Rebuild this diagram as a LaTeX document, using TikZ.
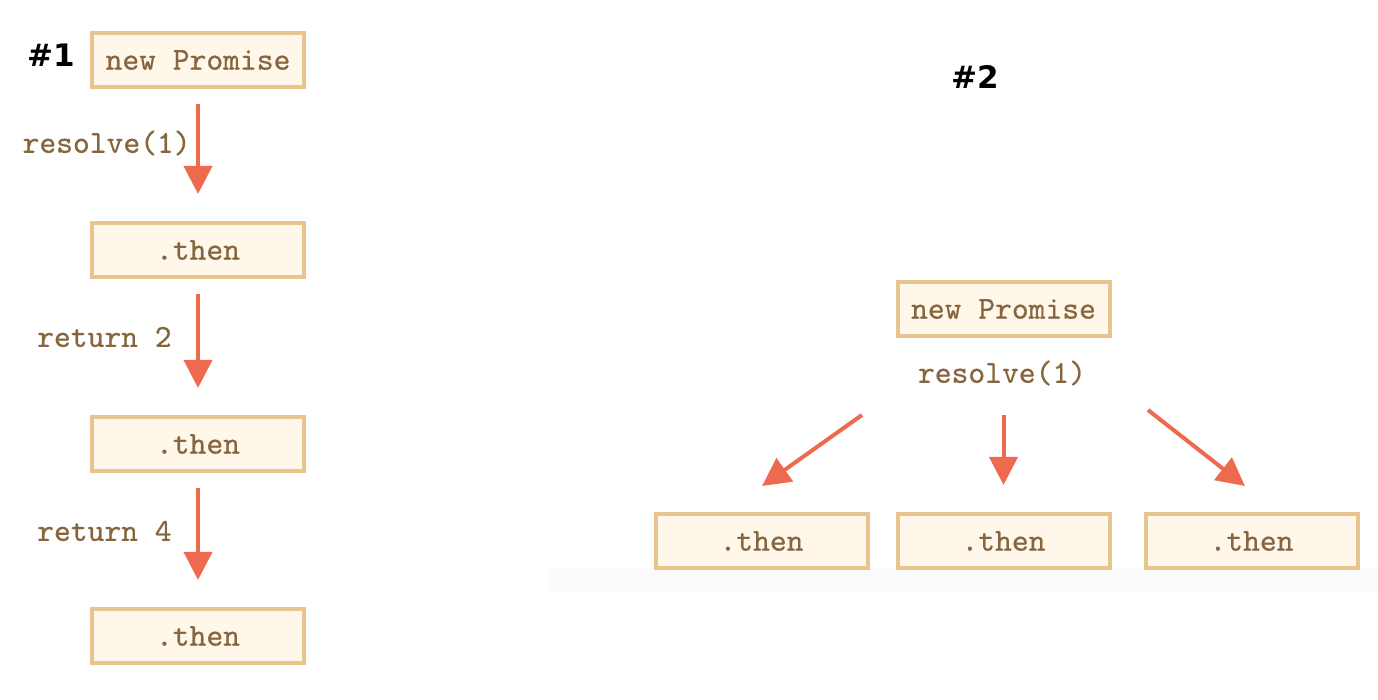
\documentclass[tikz,border=0pt]{standalone}
\usepackage{fontspec}
\usetikzlibrary{arrows.meta}
\newfontfamily\codefont{lmmono10-regular.otf}[FakeBold=0.6]
\newfontfamily\tagfont{DejaVu Sans}
\definecolor{boxfill}{HTML}{FFF8EA}
\definecolor{boxline}{HTML}{E8C48E}
\definecolor{codetext}{HTML}{86653F}
\definecolor{arrowcol}{HTML}{EE6A4F}
\definecolor{band}{HTML}{FBFBFB}
\begin{document}
\begin{tikzpicture}[x=0.5pt,y=-0.5pt,
  codebox/.style={draw=boxline,fill=boxfill,line width=2pt,minimum width=106pt,minimum height=27pt,inner sep=0pt,font=\codefont\fontsize{16}{18}\selectfont,text=codetext},
  codelabel/.style={inner sep=0pt,font=\codefont\fontsize{16}{18}\selectfont,text=codetext},
  tag/.style={inner sep=0pt,font=\tagfont\bfseries\fontsize{15.5}{17}\selectfont,text=black},
  flow/.style={draw=arrowcol,line width=2pt,-{Triangle[length=14pt,width=14pt]},arrowcol}]
\useasboundingbox (0,0) rectangle (1378,700);
\fill[band] (548,568) rectangle (1378,592);
% left chain
\node[tag] (t1) at (51,55) {\#1};
\node[codebox] (a1) at (198,60) {new Promise};
\node[codebox] (a2) at (198,250) {.then};
\node[codebox] (a3) at (198,444) {.then};
\node[codebox] (a4) at (198,636) {.then};
\node[codelabel,anchor=east] (l1) at (191,143) {resolve(1)};
\node[codelabel,anchor=east] (l2) at (172,337) {return 2};
\node[codelabel,anchor=east] (l3) at (172,531) {return 4};
\draw[flow,shorten <=7.5pt,shorten >=13.5pt] (a1.south) -- (a2.north);
\draw[flow,shorten <=7.5pt,shorten >=13.5pt] (a2.south) -- (a3.north);
\draw[flow,shorten <=7.5pt,shorten >=13.5pt] (a3.south) -- (a4.north);
% right fan
\node[tag] (t2) at (975,77) {\#2};
\node[codebox] (p) at (1003.5,309) {new Promise};
\node[codelabel] (r) at (1002,373) {resolve(1)};
\node[codebox] (b1) at (761.5,541) {.then};
\node[codebox] (b2) at (1003.5,541) {.then};
\node[codebox] (b3) at (1251.5,541) {.then};
\coordinate (s1) at (862,415);
\coordinate (e1) at (762,486);
\coordinate (s3) at (1148,410);
\coordinate (e3) at (1245,486);
\coordinate (s2) at (1003.5,415);
\draw[flow] (s1) -- (e1);
\draw[flow,shorten >=13.5pt] (s2) -- (b2.north);
\draw[flow] (s3) -- (e3);
\end{tikzpicture}
\end{document}
